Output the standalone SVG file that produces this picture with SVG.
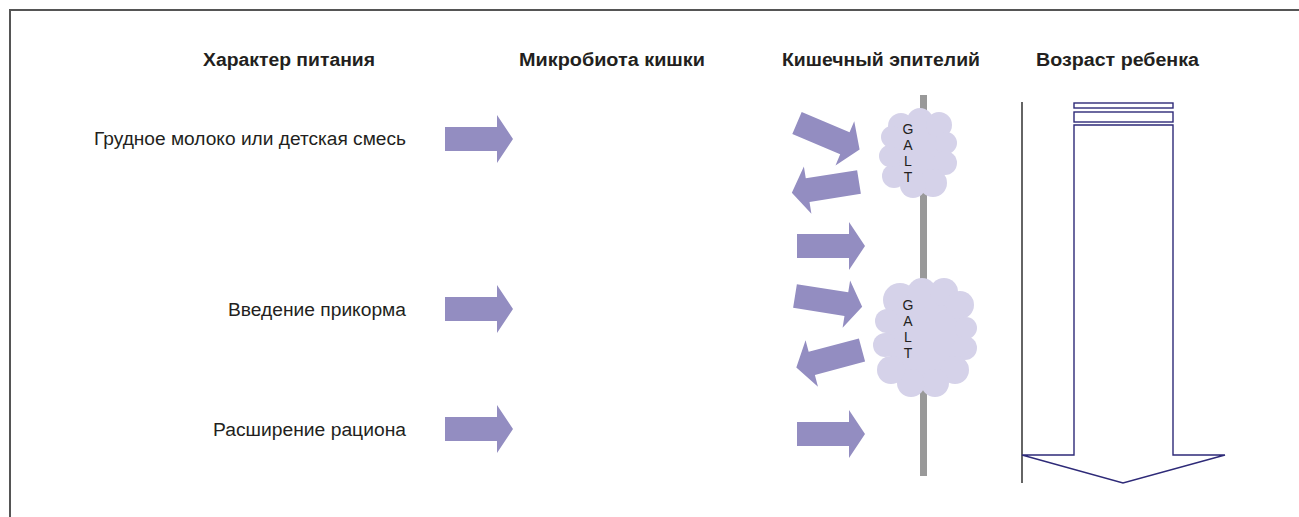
<svg xmlns="http://www.w3.org/2000/svg" width="1299" height="517" viewBox="0 0 1299 517">
<style>
.h{font-family:"Liberation Sans",Arial,sans-serif;font-weight:bold;font-size:18px;fill:#231f20;text-anchor:middle}
.l{font-family:"Liberation Sans",Arial,sans-serif;font-size:18px;fill:#231f20;text-anchor:end}
.g{font-family:"Liberation Sans",Arial,sans-serif;font-size:14px;fill:#231f20;text-anchor:middle}
.arr{fill:#938dc1}
.cl{fill:#d5d2e9}
.age{fill:none;stroke:#2e2a78;stroke-width:1.4}
</style>
<defs>
<path id="a" d="M0,-12 L52,-12 L52,-24 L68,0 L52,24 L52,12 L0,12 Z"/>
</defs>
<g id="frame"><path d="M10,517 L10,10 L1299,10" fill="none" stroke="#555" stroke-width="2"/></g>
<g id="headers">
<text class="h" x="289" y="66" textLength="172" lengthAdjust="spacingAndGlyphs">Характер питания</text>
<text class="h" x="612" y="66" textLength="186" lengthAdjust="spacingAndGlyphs">Микробиота кишки</text>
<text class="h" x="881" y="66" textLength="198" lengthAdjust="spacingAndGlyphs">Кишечный эпителий</text>
<text class="h" x="1117.5" y="66" textLength="163" lengthAdjust="spacingAndGlyphs">Возраст ребенка</text>
</g>
<g id="labels">
<text class="l" x="406" y="145" textLength="312" lengthAdjust="spacingAndGlyphs">Грудное молоко или детская смесь</text>
<text class="l" x="406" y="316" textLength="178" lengthAdjust="spacingAndGlyphs">Введение прикорма</text>
<text class="l" x="406" y="436" textLength="193" lengthAdjust="spacingAndGlyphs">Расширение рациона</text>
</g>
<g id="epithelium"><rect x="920" y="95" width="7" height="381" fill="#999"/></g>
<g id="galt1">
<g class="cl">
<circle cx="918" cy="153" r="30"/>
<circle cx="901" cy="126" r="13"/>
<circle cx="920" cy="121" r="13"/>
<circle cx="939" cy="125" r="13"/>
<circle cx="946" cy="143" r="11"/>
<circle cx="945" cy="163" r="12"/>
<circle cx="933" cy="183" r="14"/>
<circle cx="913" cy="185" r="13"/>
<circle cx="894" cy="176" r="12"/>
<circle cx="890" cy="156" r="11"/>
<circle cx="892" cy="137" r="11"/>
</g>
<text class="g"><tspan x="908" y="134">G</tspan><tspan x="908" y="150">A</tspan><tspan x="908" y="166">L</tspan><tspan x="908" y="182">T</tspan></text>
</g>
<g id="galt2">
<g class="cl">
<circle cx="925" cy="337" r="40"/>
<circle cx="900" cy="300" r="17"/>
<circle cx="922" cy="293" r="15"/>
<circle cx="944" cy="292" r="14"/>
<circle cx="960" cy="305" r="14"/>
<circle cx="966" cy="328" r="11"/>
<circle cx="965" cy="348" r="12"/>
<circle cx="955" cy="370" r="14"/>
<circle cx="935" cy="383" r="14"/>
<circle cx="911" cy="383" r="14"/>
<circle cx="891" cy="370" r="14"/>
<circle cx="885" cy="345" r="12"/>
<circle cx="887" cy="321" r="12"/>
</g>
<text class="g"><tspan x="908" y="310">G</tspan><tspan x="908" y="326">A</tspan><tspan x="908" y="342">L</tspan><tspan x="908" y="358">T</tspan></text>
</g>
<g id="age">
<path d="M1022,102 V483" stroke="#111" stroke-width="1.3" fill="none"/>
<rect class="age" x="1074" y="103" width="99" height="5"/>
<rect class="age" x="1074" y="112" width="99" height="10"/>
<path class="age" d="M1074,125 H1173 V455 H1225 L1123,483 L1022,455 H1074 Z"/>
</g>
<g id="connectors" class="arr">
<use href="#a" x="445" y="139"/>
<use href="#a" x="445" y="309"/>
<use href="#a" x="445" y="429"/>
<use href="#a" transform="translate(797,123) rotate(23)"/>
<use href="#a" transform="translate(859,182) rotate(171)"/>
<use href="#a" x="797" y="246"/>
<use href="#a" transform="translate(795,296) rotate(9)"/>
<use href="#a" transform="translate(862,350) rotate(165)"/>
<use href="#a" x="797" y="434"/>
</g>
</svg>
